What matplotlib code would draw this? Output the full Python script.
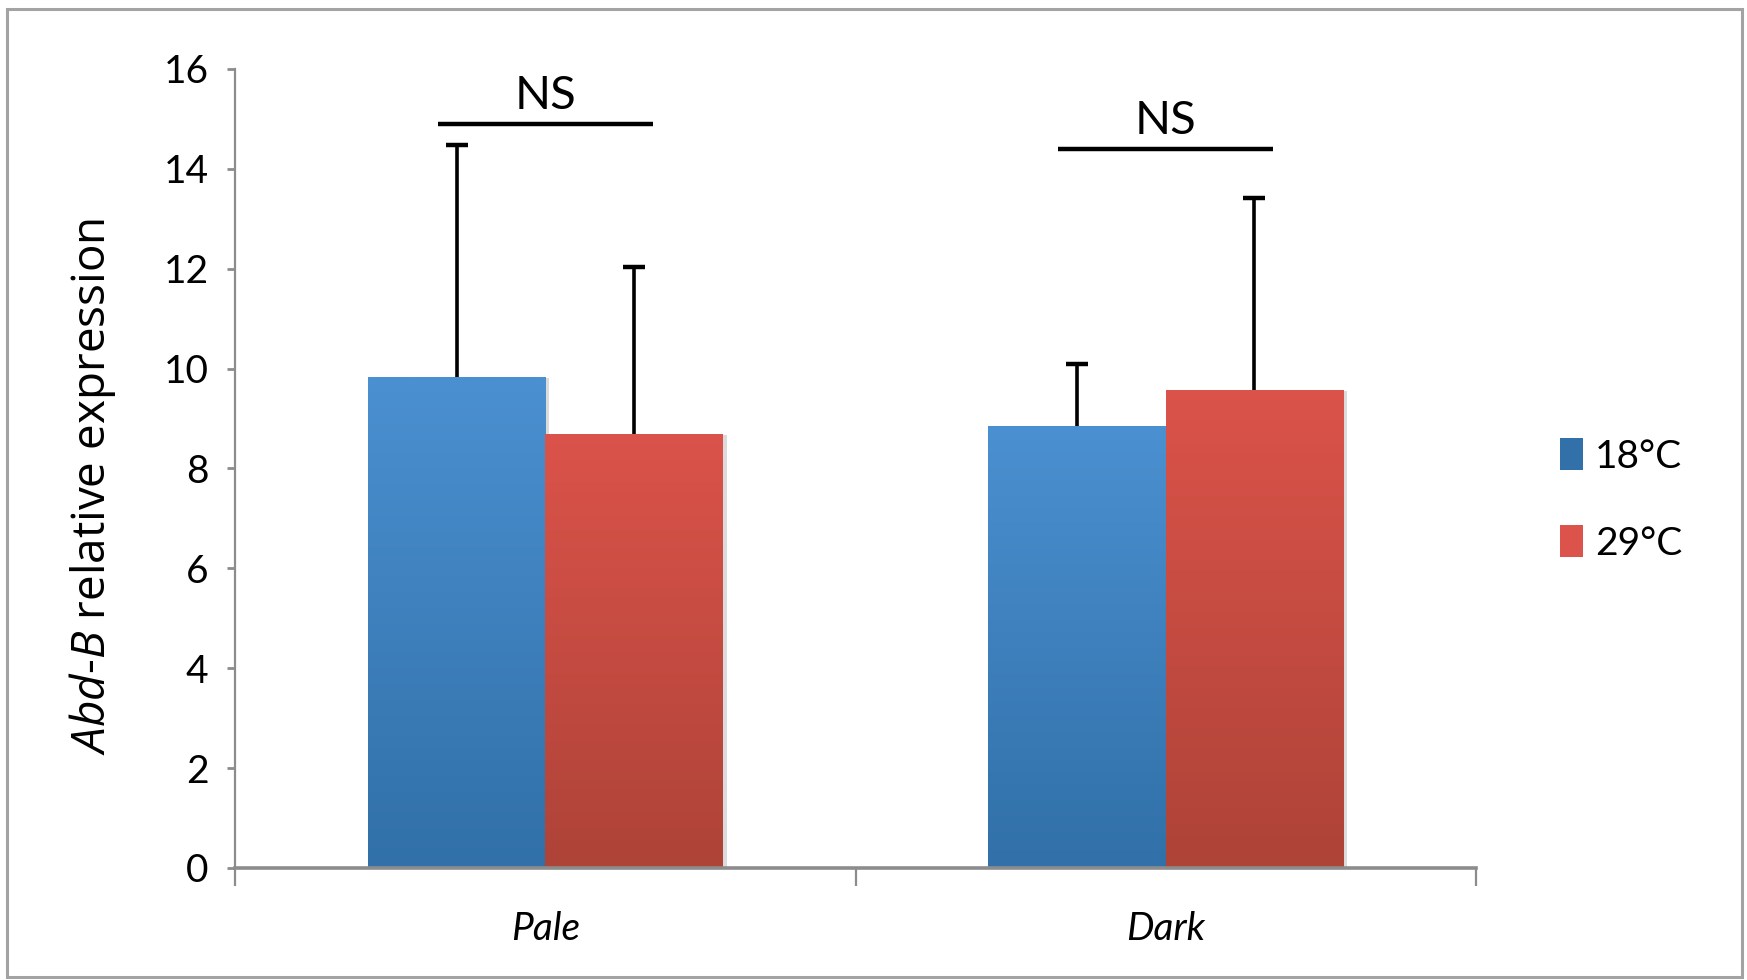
import numpy as np
import matplotlib
matplotlib.use("Agg")
import matplotlib.pyplot as plt
import matplotlib.patheffects as pe
from matplotlib.patches import Patch, Rectangle
from matplotlib.colors import LinearSegmentedColormap

# data
groups = ["Pale", "Dark"]
series = ["18°C", "29°C"]
means_18 = [9.83, 8.86]
means_29 = [8.70, 9.58]
err_18 = [4.64, 1.23]
err_29 = [3.33, 3.84]
ns_levels = [14.9, 14.4]
ns_labels = ["NS", "NS"]
yticks = [0, 2, 4, 6, 8, 10, 12, 14, 16]

plt.rcParams["font.family"] = ["Lato", "DejaVu Sans"]
plt.rcParams["mathtext.fontset"] = "custom"
plt.rcParams["mathtext.it"] = "Open Sans:italic"
plt.rcParams["mathtext.rm"] = "Open Sans"

blue_top, blue_bot = "#4b90d1", "#3170a8"
red_top, red_bot = "#db534a", "#ae4338"


def grad_fill(ax, bar, top, bottom):
    x, y = bar.get_xy()
    w, h = bar.get_width(), bar.get_height()
    cmap = LinearSegmentedColormap.from_list("g", [bottom, top])
    img = np.linspace(0, 1, 256).reshape(-1, 1)
    im = ax.imshow(img, cmap=cmap, extent=[x, x + w, y, y + h], origin="lower",
                   aspect="auto", zorder=bar.get_zorder() + 0.1)
    im.set_clip_path(bar)


fig = plt.figure(figsize=(17.47, 9.8), dpi=100)
ax = fig.add_axes([0.1345, 0.1143, 0.7104, 0.8153])

x = np.arange(len(groups))
w = 1 / 3.5
shadow = [pe.SimplePatchShadow(offset=(3, -1), shadow_rgbFace="#9a9a9a", alpha=0.35), pe.Normal()]
b1 = ax.bar(x - w / 2, means_18, w, color=blue_top, zorder=2, path_effects=shadow)
b2 = ax.bar(x + w / 2, means_29, w, color=red_top, zorder=2, path_effects=shadow)
for b in b1:
    grad_fill(ax, b, blue_top, blue_bot)
for b in b2:
    grad_fill(ax, b, red_top, red_bot)

# upper error bars only, no cap at the bar top
zeros = [0, 0]
for xs, m, e in [(x - w / 2, means_18, err_18), (x + w / 2, means_29, err_29)]:
    eb = ax.errorbar(xs, m, yerr=[zeros, e], fmt="none", ecolor="black",
                     elinewidth=2.6, capsize=8, capthick=3.2, zorder=1)
    eb[1][0].set_visible(False)

for i in range(len(groups)):
    ax.plot([x[i] - 0.173, x[i] + 0.173], [ns_levels[i], ns_levels[i]], color="black",
            lw=3.2, solid_capstyle="butt", zorder=3)
    ax.annotate(ns_labels[i], xy=(x[i], ns_levels[i]), xytext=(0, 5),
                textcoords="offset points", ha="center", va="bottom", fontsize=34)

ax.set_xlim(-0.5, 1.5)
ax.set_ylim(0, 16)
ax.set_yticks(yticks)
ax.set_xticks(x)
ax.set_xticklabels(groups, fontsize=28, style="italic")
ax.set_xticks([-0.5, 0.5, 1.5], minor=True)
ax.tick_params(axis="x", which="major", length=0, pad=31)
ax.tick_params(axis="x", which="minor", length=13, width=1.6, color="#8c8c8c", direction="out")
ax.tick_params(axis="y", length=6, width=2, color="#8c8c8c", labelsize=28, pad=13)

for s in ["top", "right"]:
    ax.spines[s].set_visible(False)
ax.spines["left"].set_color("#8c8c8c")
ax.spines["left"].set_linewidth(1.6)
ax.spines["bottom"].set_color("#8c8c8c")
ax.spines["bottom"].set_linewidth(2.6)

ax.set_ylabel(r"$\mathit{Abd}$-$\mathit{B}$ relative expression", fontsize=33,
              family="Open Sans")
ax.yaxis.set_label_coords(-0.094, 0.477)

handles = [Patch(facecolor=blue_bot, edgecolor="none"), Patch(facecolor=red_top, edgecolor="none")]
fig.legend(handles, series, loc="center left", bbox_to_anchor=(0.873, 0.49), frameon=False,
           fontsize=28, handlelength=0.6, handleheight=0.9, handletextpad=0.3, labelspacing=1.3)

fig.patches.append(Rectangle((0.004, 0.003), 0.993, 0.988, transform=fig.transFigure,
                             fill=False, edgecolor="#a3a3a3", lw=2.2))

fig.savefig("out.png", dpi=100)
